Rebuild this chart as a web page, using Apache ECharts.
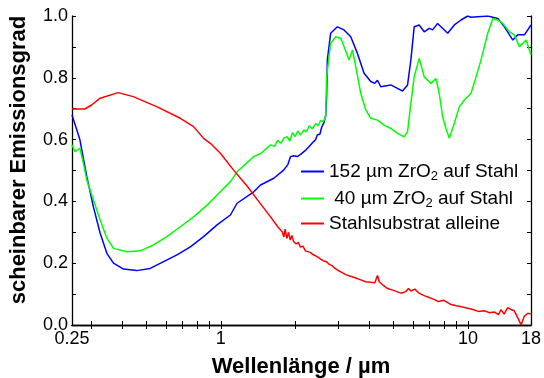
<!DOCTYPE html>
<html>
<head>
<meta charset="utf-8">
<script src="https://cdn.jsdelivr.net/npm/echarts@6/dist/echarts.min.js"></script>
<style>
  html, body { margin: 0; padding: 0; background: #fff; }
  #main { width: 544px; height: 378px; }
</style>
</head>
<body>
<div id="main"></div>
<script>
// Wellenlänge (µm) / Emissionsgrad
var names = ['152 µm ZrO2 auf Stahl', ' 40 µm ZrO2 auf Stahl', 'Stahlsubstrat alleine'];
var xTickLabels = [0.25, 1, 10, 18];
var xMinorTicks = [0.3, 0.4, 0.5, 0.6, 0.7, 0.8, 0.9, 1, 2, 3, 4, 5, 6, 7, 8, 9, 10];

var zr152 = [
  [0.25, 0.68], [0.269, 0.60], [0.287, 0.48], [0.305, 0.383], [0.325, 0.297], [0.346, 0.232],
  [0.368, 0.200], [0.404, 0.181], [0.457, 0.176], [0.518, 0.183], [0.587, 0.205], [0.665, 0.227],
  [0.753, 0.253], [0.852, 0.286], [0.966, 0.324], [1.094, 0.356], [1.164, 0.394], [1.36, 0.431],
  [1.448, 0.453], [1.639, 0.475], [1.80, 0.502], [1.87, 0.52], [1.916, 0.545], [1.97, 0.548],
  [2.04, 0.545], [2.104, 0.552], [2.2, 0.565], [2.273, 0.577], [2.35, 0.59], [2.42, 0.600],
  [2.458, 0.615], [2.52, 0.618], [2.56, 0.64], [2.615, 0.655], [2.66, 0.68], [2.681, 0.74],
  [2.699, 0.858], [2.783, 0.944], [2.963, 0.965], [3.153, 0.955], [3.356, 0.933], [3.573, 0.879],
  [3.80, 0.815], [4.045, 0.788], [4.2, 0.782], [4.305, 0.792], [4.441, 0.771], [4.875, 0.777],
  [5.189, 0.766], [5.438, 0.757], [5.699, 0.777], [5.878, 0.858], [6.062, 0.965], [6.352, 0.971],
  [6.656, 0.949], [6.973, 0.960], [7.2, 0.955], [7.542, 0.976], [8.282, 0.944], [8.811, 0.971],
  [9.376, 0.987], [9.982, 1.0], [10.3, 0.996], [12.03, 1.0], [13.21, 0.992], [14.05, 0.965],
  [15.2, 0.922], [15.92, 0.939], [16.93, 0.939], [18, 0.971]
];

var zr40 = [
  [0.25, 0.583], [0.257, 0.561], [0.269, 0.572], [0.278, 0.523], [0.287, 0.469], [0.305, 0.405],
  [0.325, 0.340], [0.346, 0.281], [0.368, 0.248], [0.417, 0.237], [0.472, 0.240], [0.534, 0.259],
  [0.605, 0.286], [0.686, 0.318], [0.776, 0.350], [0.880, 0.388], [0.966, 0.421], [1.094, 0.464],
  [1.164, 0.496], [1.36, 0.545], [1.45, 0.555], [1.59, 0.583], [1.65, 0.578], [1.70, 0.598],
  [1.75, 0.588], [1.80, 0.605], [1.86, 0.609], [1.90, 0.595], [1.95, 0.622], [2.0, 0.610],
  [2.05, 0.628], [2.10, 0.615], [2.17, 0.631], [2.22, 0.625], [2.28, 0.645], [2.35, 0.635],
  [2.42, 0.652], [2.48, 0.645], [2.535, 0.662], [2.60, 0.658], [2.657, 0.674], [2.681, 0.803],
  [2.783, 0.911], [2.917, 0.933], [3.057, 0.928], [3.153, 0.901], [3.303, 0.858], [3.41, 0.890],
  [3.517, 0.836], [3.685, 0.750], [3.861, 0.696], [4.045, 0.669], [4.305, 0.663], [4.58, 0.647],
  [4.875, 0.636], [5.189, 0.620], [5.52, 0.609], [5.699, 0.626], [5.878, 0.718], [6.062, 0.803],
  [6.352, 0.863], [6.453, 0.868], [6.656, 0.803], [7.085, 0.782], [7.423, 0.798], [7.655, 0.750],
  [7.902, 0.674], [8.151, 0.636], [8.408, 0.604], [8.811, 0.653], [9.23, 0.706], [9.67, 0.728],
  [10.3, 0.750], [10.79, 0.803], [11.3, 0.858], [12.03, 0.944], [12.61, 0.992], [13.21, 0.987],
  [13.84, 0.976], [14.72, 0.949], [15.42, 0.939], [16.16, 0.901], [17.2, 0.922], [18, 0.874]
];

var stahl = [
  [0.25, 0.699], [0.282, 0.699], [0.30, 0.712], [0.325, 0.734], [0.384, 0.752], [0.442, 0.739],
  [0.553, 0.706], [0.686, 0.669], [0.776, 0.642], [0.852, 0.604], [0.907, 0.588], [0.996, 0.556],
  [1.125, 0.502], [1.282, 0.448], [1.408, 0.405], [1.59, 0.350], [1.70, 0.318], [1.773, 0.302],
  [1.80, 0.285], [1.82, 0.31], [1.85, 0.28], [1.88, 0.30], [1.91, 0.275], [1.94, 0.29],
  [1.97, 0.27], [2.02, 0.262], [2.06, 0.268], [2.10, 0.252], [2.15, 0.255], [2.20, 0.24],
  [2.24, 0.237], [2.30, 0.235], [2.36, 0.228], [2.42, 0.224], [2.48, 0.219], [2.535, 0.213],
  [2.60, 0.208], [2.68, 0.205], [2.75, 0.196], [2.82, 0.192], [2.90, 0.183], [2.963, 0.178],
  [3.06, 0.172], [3.2, 0.163], [3.35, 0.158], [3.5, 0.153], [3.685, 0.146], [3.85, 0.140],
  [4.05, 0.138], [4.2, 0.137], [4.305, 0.160], [4.38, 0.140], [4.55, 0.128], [4.728, 0.118],
  [5.0, 0.112], [5.353, 0.103], [5.6, 0.108], [5.75, 0.118], [5.878, 0.110], [6.1, 0.116],
  [6.3, 0.105], [6.453, 0.100], [6.8, 0.092], [7.286, 0.083], [7.6, 0.076], [8.0, 0.080],
  [8.543, 0.066], [9.0, 0.062], [9.5, 0.058], [9.982, 0.054], [10.5, 0.05], [11.0, 0.044],
  [11.62, 0.046], [12.2, 0.040], [12.8, 0.042], [13.3, 0.034], [13.62, 0.05], [14.0, 0.035],
  [14.5, 0.056], [14.96, 0.05], [15.4, 0.046], [16.0, 0.02], [16.42, 0.0], [16.9, 0.028],
  [17.48, 0.038], [18, 0.036]
];

var colors = ['#0000ff', '#00ff00', '#ff0000'];
var font = 'Liberation Sans, Arial, Helvetica, sans-serif';

var legendText = {};
legendText[names[0]] = '{t|152 µm ZrO}{s|2}{t| auf Stahl}';
legendText[names[1]] = '{t| 40 µm ZrO}{s|2}{t| auf Stahl}';
legendText[names[2]] = '{t|Stahlsubstrat alleine}';

var myChart = echarts.init(document.getElementById('main'));

var tickStyle = { show: true, inside: true, length: 4, lineStyle: { color: '#000', width: 1 } };
var lineStyleAx = { show: true, lineStyle: { color: '#000', width: 1.3 } };

function xAxisBase(pos, showLabel) {
  return {
    type: 'log',
    logBase: 10,
    min: 0.25,
    max: 18,
    position: pos,
    axisLine: lineStyleAx,
    axisTick: Object.assign({ customValues: xMinorTicks }, tickStyle),
    splitLine: { show: false },
    minorTick: { show: false },
    axisLabel: {
      show: showLabel,
      customValues: xTickLabels,
      margin: 5,
      color: '#000',
      fontSize: 18,
      fontFamily: font,
      formatter: function (v) { return String(+(+v).toPrecision(6)); }
    }
  };
}

function yAxisBase(pos, showLabel) {
  return {
    type: 'value',
    min: 0,
    max: 1,
    interval: 0.2,
    position: pos,
    axisLine: lineStyleAx,
    axisTick: tickStyle,
    minorTick: { show: true, splitNumber: 2, length: 4, lineStyle: { color: '#000', width: 1 } },
    splitLine: { show: false },
    minorSplitLine: { show: false },
    axisLabel: {
      show: showLabel,
      margin: 4,
      color: '#000',
      fontSize: 18,
      fontFamily: font,
      formatter: function (v) { return v.toFixed(1); }
    }
  };
}

var option = {
  animation: false,
  backgroundColor: '#fff',
  grid: { left: 72, right: 13, top: 16, bottom: 53, containLabel: false },
  xAxis: [xAxisBase('bottom', true), xAxisBase('top', false)],
  yAxis: [yAxisBase('left', true), yAxisBase('right', false)],
  legend: {
    orient: 'vertical',
    left: 295,
    top: 155,
    itemWidth: 23,
    itemHeight: 12,
    itemGap: 4,
    data: names,
    itemStyle: { opacity: 0 },
    formatter: function (n) { return legendText[n]; },
    textStyle: {
      color: '#000',
      rich: {
        t: { fontSize: 19, fontFamily: font, color: '#000', lineHeight: 21 },
        s: { fontSize: 13, fontFamily: font, color: '#000', padding: [10, 0, 0, 0], lineHeight: 21 }
      }
    }
  },
  graphic: [
    {
      type: 'text',
      x: 19,
      y: 160,
      rotation: Math.PI / 2,
      style: {
        text: 'scheinbarer Emissionsgrad',
        font: 'bold 22px ' + font,
        fill: '#000',
        align: 'center',
        verticalAlign: 'middle'
      }
    },
    {
      type: 'text',
      x: 301,
      y: 367,
      style: {
        text: 'Wellenlänge / µm',
        font: 'bold 22px ' + font,
        fill: '#000',
        align: 'center',
        verticalAlign: 'middle'
      }
    }
  ],
  series: [
    { name: names[0], type: 'line', data: zr152, symbol: 'none', clip: true,
      lineStyle: { color: colors[0], width: 1.5 }, itemStyle: { color: colors[0] } },
    { name: names[1], type: 'line', data: zr40, symbol: 'none', clip: true,
      lineStyle: { color: colors[1], width: 1.5 }, itemStyle: { color: colors[1] } },
    { name: names[2], type: 'line', data: stahl, symbol: 'none', clip: true,
      lineStyle: { color: colors[2], width: 1.5 }, itemStyle: { color: colors[2] } }
  ]
};

myChart.setOption(option);
</script>
</body>
</html>
